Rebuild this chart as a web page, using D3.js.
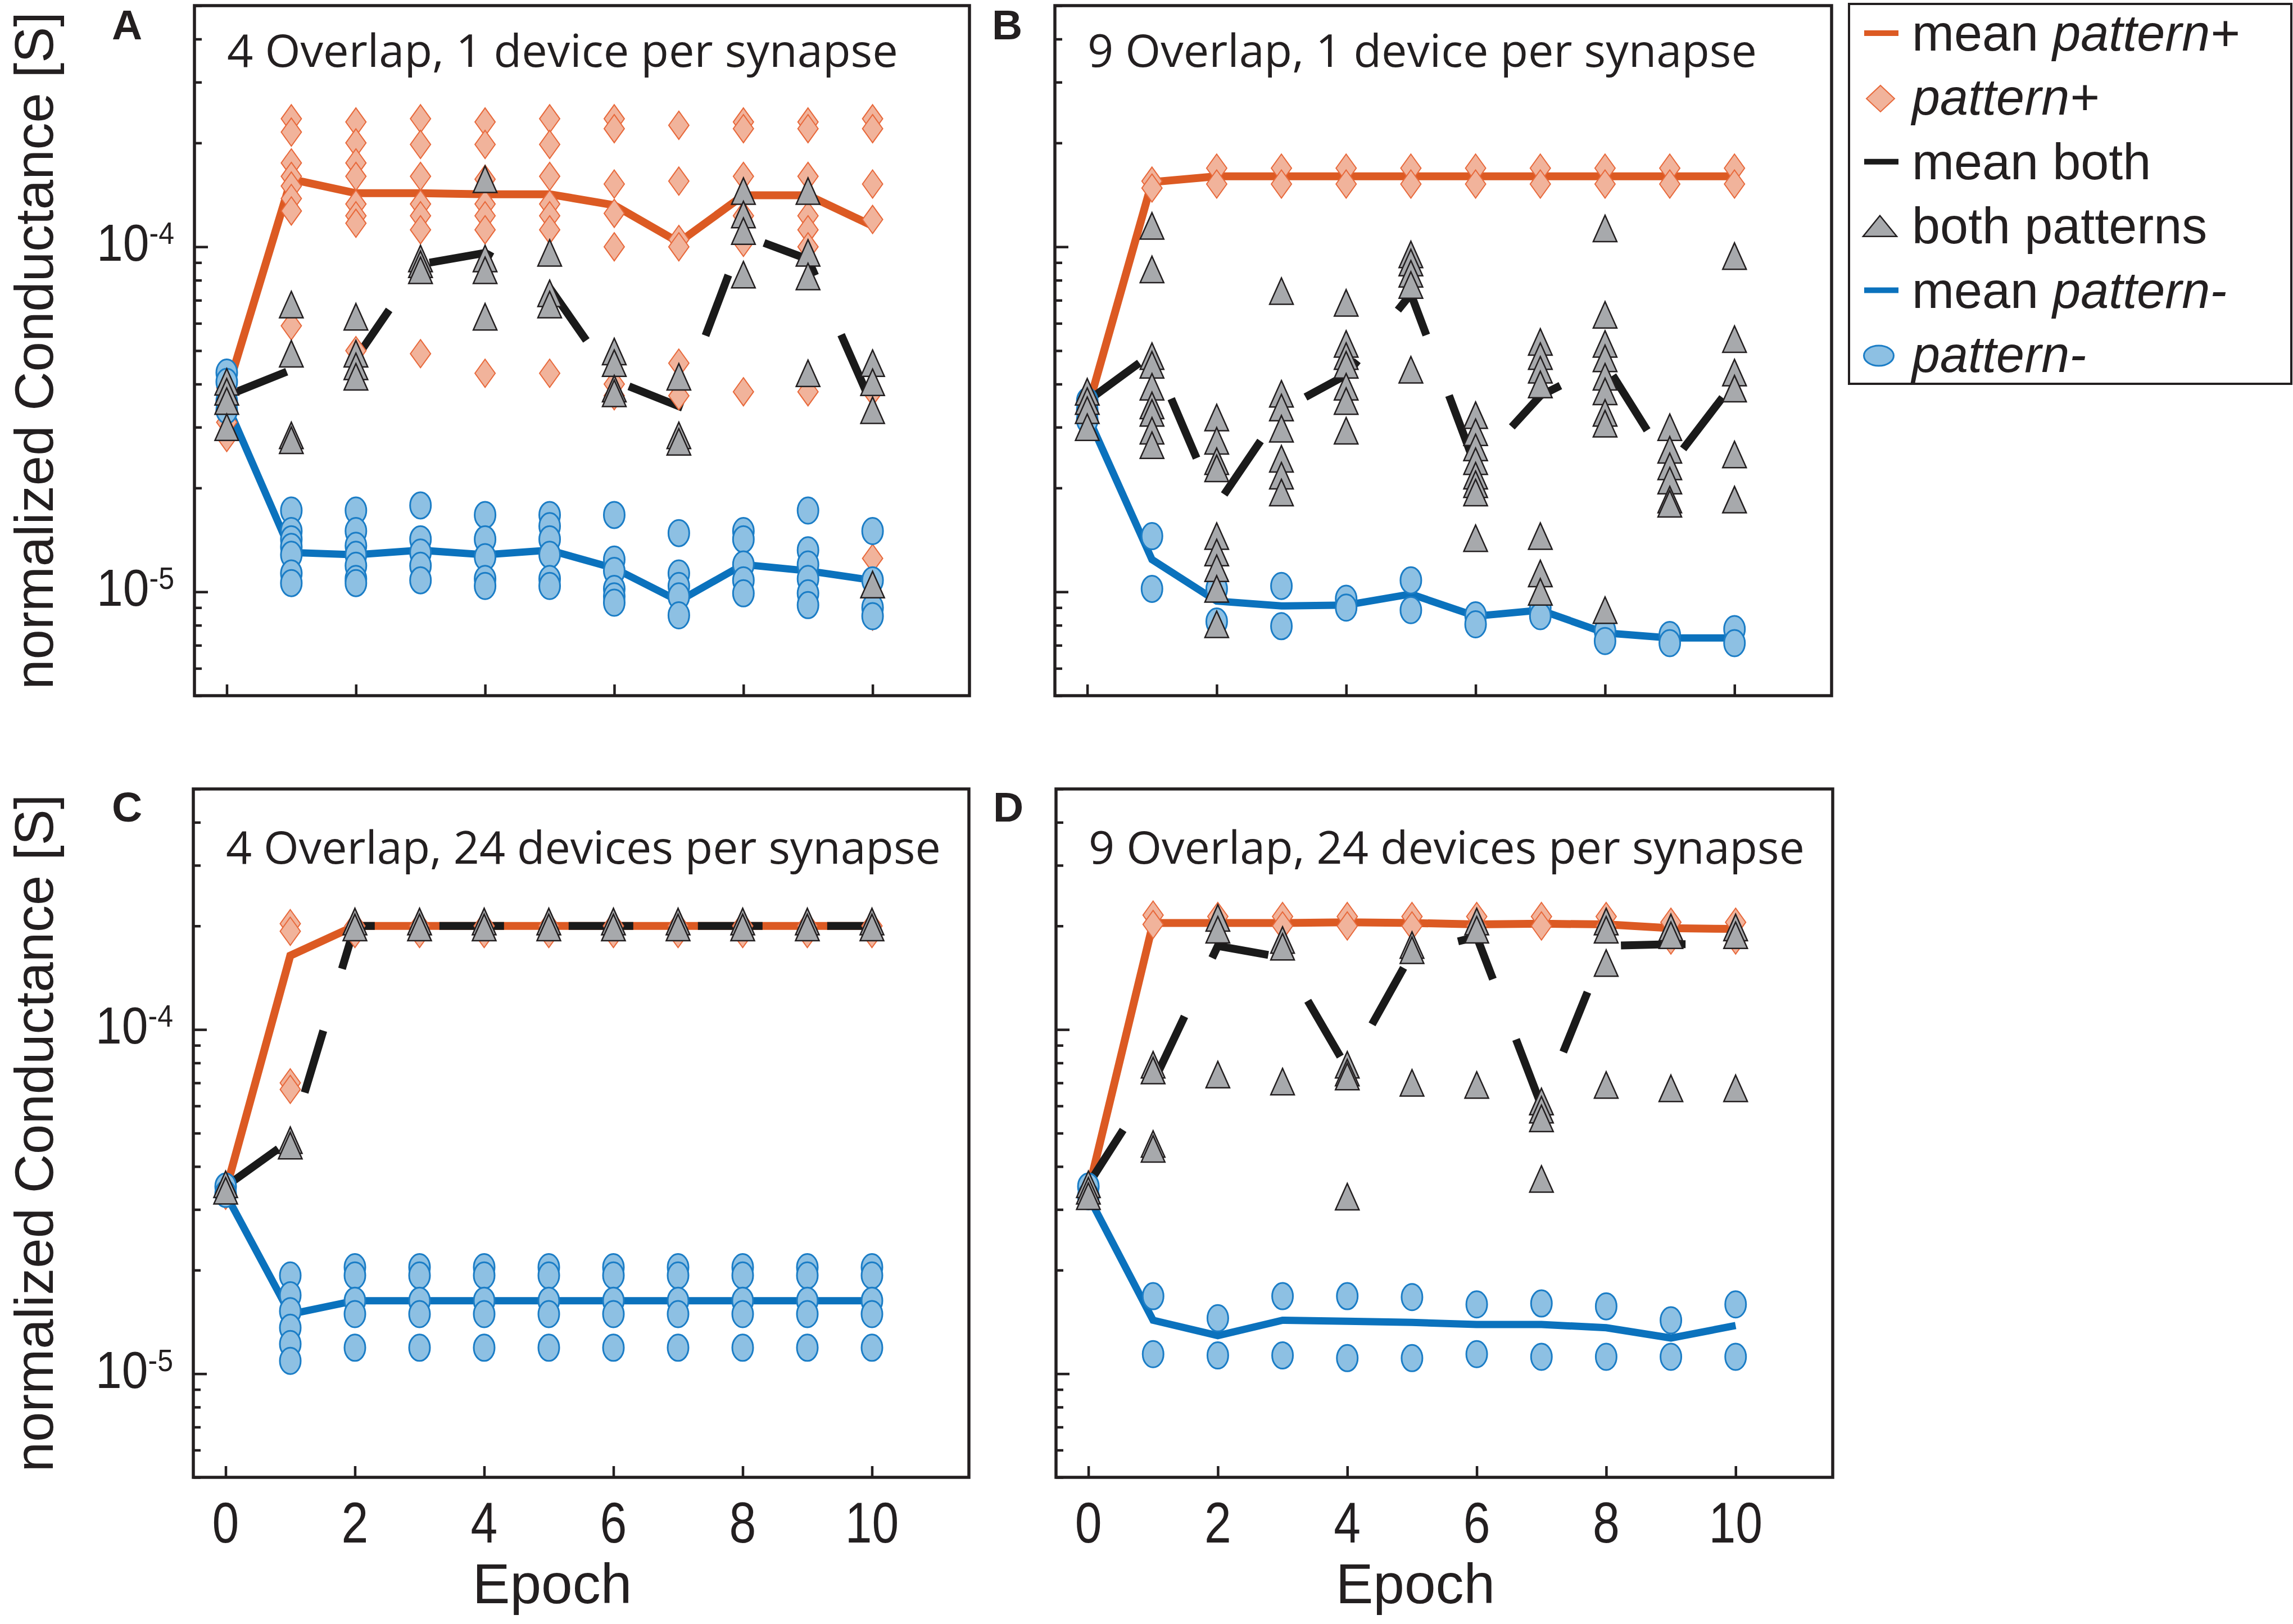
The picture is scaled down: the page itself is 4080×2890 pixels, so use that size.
<!DOCTYPE html>
<html lang="en">
<head>
<meta charset="UTF-8">
<title>normalized Conductance per Epoch</title>
<style>
  body { margin: 0; background: #fff; }
  svg { display: block; }
  text { font-family: "Liberation Sans", Arial, sans-serif; fill: #231f20; }
  .title { font-family: "Open Sans", sans-serif; }
</style>
</head>
<body>
<script src="https://d3js.org/d3.v7.min.js"></script>
<script>
// ---- data ----
const epochs = [0, 1, 2, 3, 4, 5, 6, 7, 8, 9, 10];
const xTicks = [0, 2, 4, 6, 8, 10];
const yMajor = [1e-5, 1e-4];
const yMajorExp = ['-5', '-4'];
const panelLetters = ['A', 'B', 'C', 'D'];
const panelTitles = [
  '4 Overlap, 1 device per synapse',
  '9 Overlap, 1 device per synapse',
  '4 Overlap, 24 devices per synapse',
  '9 Overlap, 24 devices per synapse'
];
const legendLabels = [
  ['mean ', 'pattern+'],
  ['', 'pattern+'],
  ['mean both', ''],
  ['both patterns', ''],
  ['mean ', 'pattern-'],
  ['', 'pattern-']
];

// panel A
const A_plus = [
  [3.9e-5, 3.6e-5, 3.3e-5, 3.1e-5, 2.8e-5],
  [2.35e-4, 2.15e-4, 1.75e-4, 1.6e-4, 1.5e-4, 1.38e-4, 1.27e-4, 5.9e-5],
  [2.3e-4, 2.0e-4, 1.75e-4, 1.6e-4, 1.33e-4, 1.23e-4, 1.17e-4, 5.0e-5],
  [2.35e-4, 1.98e-4, 1.6e-4, 1.33e-4, 1.23e-4, 1.12e-4, 4.9e-5],
  [2.3e-4, 1.98e-4, 1.57e-4, 1.33e-4, 1.23e-4, 1.12e-4, 4.3e-5],
  [2.35e-4, 1.98e-4, 1.6e-4, 1.33e-4, 1.23e-4, 1.12e-4, 4.3e-5],
  [2.35e-4, 2.2e-4, 1.52e-4, 1.25e-4, 1.0e-4, 4.0e-5, 3.7e-5],
  [2.25e-4, 1.55e-4, 1.05e-4, 1.0e-4, 4.6e-5, 3.7e-5],
  [2.3e-4, 2.2e-4, 1.6e-4, 1.23e-4, 1.03e-4, 3.8e-5],
  [2.3e-4, 2.2e-4, 1.6e-4, 1.23e-4, 1.12e-4, 1.0e-4, 3.8e-5],
  [2.35e-4, 2.2e-4, 1.52e-4, 1.2e-4, 3.8e-5, 1.25e-5, 8.5e-6]
];
const A_plusMean = [3.8e-5, 1.57e-4, 1.43e-4, 1.43e-4, 1.42e-4, 1.42e-4, 1.32e-4, 1.03e-4, 1.41e-4, 1.41e-4, 1.15e-4];
const A_both = [
  [4.06e-5, 3.8e-5, 3.57e-5, 3.0e-5],
  [6.8e-5, 4.9e-5, 2.84e-5, 2.75e-5],
  [6.27e-5, 4.9e-5, 4.5e-5, 4.2e-5],
  [9.25e-5, 8.9e-5, 8.55e-5],
  [1.57e-4, 9.25e-5, 8.55e-5, 6.27e-5],
  [9.6e-5, 7.33e-5, 6.8e-5],
  [4.97e-5, 4.6e-5, 3.88e-5, 3.76e-5],
  [4.2e-5, 2.84e-5, 2.72e-5],
  [1.45e-4, 1.24e-4, 1.11e-4, 8.3e-5],
  [1.45e-4, 9.6e-5, 8.2e-5, 4.3e-5],
  [4.6e-5, 4.05e-5, 3.36e-5, 1.05e-5]
];
const A_bothMean = [3.7e-5, 4.4e-5, 4.75e-5, 8.9e-5, 9.6e-5, 7.6e-5, 4.1e-5, 3.45e-5, 1.08e-4, 9.2e-5, 3.45e-5];
const A_minus = [
  [4.32e-5, 4.06e-5, 3.57e-5, 3.36e-5],
  [1.72e-5, 1.5e-5, 1.42e-5, 1.35e-5, 1.28e-5, 1.13e-5, 1.06e-5],
  [1.72e-5, 1.5e-5, 1.36e-5, 1.28e-5, 1.19e-5, 1.09e-5, 1.06e-5],
  [1.78e-5, 1.42e-5, 1.3e-5, 1.19e-5, 1.08e-5],
  [1.67e-5, 1.42e-5, 1.26e-5, 1.09e-5, 1.04e-5],
  [1.67e-5, 1.55e-5, 1.42e-5, 1.28e-5, 1.09e-5, 1.04e-5],
  [1.67e-5, 1.24e-5, 1.15e-5, 1.02e-5, 9.7e-6, 9.3e-6],
  [1.48e-5, 1.13e-5, 1.04e-5, 9.7e-6, 8.55e-6],
  [1.5e-5, 1.42e-5, 1.2e-5, 1.08e-5, 9.9e-6],
  [1.72e-5, 1.32e-5, 1.2e-5, 1.09e-5, 9.9e-6, 9.15e-6],
  [1.5e-5, 1.08e-5, 9.0e-6, 8.5e-6]
];
const A_minusMean = [3.5e-5, 1.3e-5, 1.28e-5, 1.32e-5, 1.28e-5, 1.32e-5, 1.17e-5, 9.4e-6, 1.2e-5, 1.15e-5, 1.08e-5];

// panel B
const B_plus = [
  [3.5e-5, 3.2e-5],
  [1.55e-4, 1.48e-4],
  [1.69e-4, 1.52e-4],
  [1.69e-4, 1.52e-4],
  [1.69e-4, 1.52e-4],
  [1.69e-4, 1.52e-4],
  [1.69e-4, 1.52e-4],
  [1.69e-4, 1.52e-4],
  [1.69e-4, 1.52e-4],
  [1.69e-4, 1.52e-4],
  [1.69e-4, 1.52e-4]
];
const B_plusMean = [3.36e-5, 1.54e-4, 1.6e-4, 1.6e-4, 1.6e-4, 1.6e-4, 1.6e-4, 1.6e-4, 1.6e-4, 1.6e-4, 1.6e-4];
const B_both = [
  [3.8e-5, 3.57e-5, 3.36e-5, 3.0e-5],
  [1.15e-4, 8.6e-5, 4.82e-5, 4.55e-5, 3.93e-5, 3.47e-5, 3.3e-5, 2.93e-5, 2.66e-5],
  [3.2e-5, 2.74e-5, 2.39e-5, 2.28e-5, 1.45e-5, 1.3e-5, 1.17e-5, 1.02e-5, 8.05e-6],
  [7.44e-5, 3.75e-5, 3.42e-5, 2.97e-5, 2.43e-5, 2.17e-5, 1.94e-5],
  [6.88e-5, 5.23e-5, 4.82e-5, 4.55e-5, 3.93e-5, 3.57e-5, 2.93e-5],
  [9.5e-5, 9.0e-5, 8.35e-5, 7.75e-5, 4.4e-5],
  [3.25e-5, 2.9e-5, 2.62e-5, 2.39e-5, 2.17e-5, 2.05e-5, 1.94e-5, 1.43e-5],
  [5.3e-5, 4.82e-5, 4.4e-5, 3.99e-5, 1.45e-5, 1.13e-5, 1.0e-5],
  [1.13e-4, 6.35e-5, 5.23e-5, 4.75e-5, 4.2e-5, 3.81e-5, 3.3e-5, 3.07e-5, 8.85e-6],
  [3.0e-5, 2.58e-5, 2.31e-5, 2.1e-5, 1.85e-5, 1.8e-5],
  [9.4e-5, 5.4e-5, 4.32e-5, 3.88e-5, 2.5e-5, 1.85e-5]
];
const B_bothMean = [3.57e-5, 4.9e-5, 1.78e-5, 3.36e-5, 4.25e-5, 7.3e-5, 2.31e-5, 3.7e-5, 4.6e-5, 2.31e-5, 4.06e-5];
const B_minus = [
  [3.57e-5, 3.36e-5, 3.15e-5],
  [1.45e-5, 1.02e-5],
  [1.02e-5, 8.2e-6],
  [1.04e-5, 7.95e-6],
  [9.55e-6, 9.0e-6],
  [1.08e-5, 8.85e-6],
  [8.55e-6, 8.05e-6],
  [9.0e-6, 8.5e-6],
  [7.7e-6, 7.2e-6],
  [7.5e-6, 7.1e-6],
  [7.8e-6, 7.1e-6]
];
const B_minusMean = [3.25e-5, 1.24e-5, 9.4e-6, 9.1e-6, 9.15e-6, 9.85e-6, 8.5e-6, 8.85e-6, 7.6e-6, 7.35e-6, 7.35e-6];

// panel C
const C_plus = [
  [3.48e-5, 3.3e-5],
  [2.03e-4, 1.93e-4, 7.0e-5, 6.7e-5],
  [2.0e-4, 1.9e-4],
  [2.0e-4, 1.9e-4],
  [2.0e-4, 1.9e-4],
  [2.0e-4, 1.9e-4],
  [2.0e-4, 1.9e-4],
  [2.0e-4, 1.9e-4],
  [2.0e-4, 1.9e-4],
  [2.0e-4, 1.9e-4],
  [2.0e-4, 1.9e-4]
];
const C_plusMean = [3.4e-5, 1.64e-4, 2.0e-4, 2.0e-4, 2.0e-4, 2.0e-4, 2.0e-4, 2.0e-4, 2.0e-4, 2.0e-4, 2.0e-4];
const C_both = [
  [3.55e-5, 3.4e-5],
  [4.77e-5, 4.6e-5],
  [2.06e-4, 1.98e-4],
  [2.06e-4, 1.98e-4],
  [2.06e-4, 1.98e-4],
  [2.06e-4, 1.98e-4],
  [2.06e-4, 1.98e-4],
  [2.06e-4, 1.98e-4],
  [2.06e-4, 1.98e-4],
  [2.06e-4, 1.98e-4],
  [2.06e-4, 1.98e-4]
];
const C_bothMean = [3.5e-5, 4.77e-5, 2.0e-4, 2.0e-4, 2.0e-4, 2.0e-4, 2.0e-4, 2.0e-4, 2.0e-4, 2.0e-4, 2.0e-4];
const C_minus = [
  [3.5e-5, 3.33e-5],
  [1.93e-5, 1.69e-5, 1.52e-5, 1.36e-5, 1.22e-5, 1.09e-5],
  [2.04e-5, 1.93e-5, 1.63e-5, 1.49e-5, 1.19e-5],
  [2.04e-5, 1.93e-5, 1.63e-5, 1.49e-5, 1.19e-5],
  [2.04e-5, 1.93e-5, 1.63e-5, 1.49e-5, 1.19e-5],
  [2.04e-5, 1.93e-5, 1.63e-5, 1.49e-5, 1.19e-5],
  [2.04e-5, 1.93e-5, 1.63e-5, 1.49e-5, 1.19e-5],
  [2.04e-5, 1.93e-5, 1.63e-5, 1.49e-5, 1.19e-5],
  [2.04e-5, 1.93e-5, 1.63e-5, 1.49e-5, 1.19e-5],
  [2.04e-5, 1.93e-5, 1.63e-5, 1.49e-5, 1.19e-5],
  [2.04e-5, 1.93e-5, 1.63e-5, 1.49e-5, 1.19e-5]
];
const C_minusMean = [3.33e-5, 1.49e-5, 1.63e-5, 1.63e-5, 1.63e-5, 1.63e-5, 1.63e-5, 1.63e-5, 1.63e-5, 1.63e-5, 1.63e-5];

// panel D
const D_plus = [
  [3.48e-5],
  [2.15e-4, 2.02e-4],
  [2.13e-4, 2.0e-4],
  [2.13e-4, 2.0e-4],
  [2.13e-4, 2.0e-4],
  [2.13e-4, 2.0e-4],
  [2.13e-4, 2.0e-4],
  [2.13e-4, 2.0e-4],
  [2.13e-4, 2.0e-4],
  [2.05e-4, 1.82e-4],
  [2.05e-4, 1.82e-4]
];
const D_plusMean = [3.4e-5, 2.04e-4, 2.04e-4, 2.04e-4, 2.05e-4, 2.04e-4, 2.02e-4, 2.03e-4, 2.02e-4, 1.97e-4, 1.96e-4];
const D_both = [
  [3.55e-5, 3.4e-5, 3.28e-5],
  [7.9e-5, 7.6e-5, 4.65e-5, 4.5e-5],
  [2.11e-4, 1.95e-4, 7.4e-5],
  [1.82e-4, 1.74e-4, 7.06e-5],
  [7.9e-5, 7.5e-5, 7.3e-5, 3.27e-5],
  [1.76e-4, 1.7e-4, 7.0e-5],
  [2.06e-4, 1.95e-4, 6.9e-5],
  [6.18e-5, 5.85e-5, 5.52e-5, 3.68e-5],
  [2.06e-4, 1.95e-4, 1.56e-4, 6.9e-5],
  [1.98e-4, 1.88e-4, 6.75e-5],
  [1.98e-4, 1.88e-4, 6.75e-5]
];
const D_bothMean = [3.55e-5, 7.0e-5, 1.75e-4, 1.62e-4, 7.7e-5, 1.67e-4, 1.86e-4, 6.0e-5, 1.75e-4, 1.77e-4, 1.77e-4];
const D_minus = [
  [3.5e-5, 3.28e-5],
  [1.68e-5, 1.14e-5],
  [1.45e-5, 1.13e-5],
  [1.68e-5, 1.13e-5],
  [1.68e-5, 1.11e-5],
  [1.67e-5, 1.11e-5],
  [1.59e-5, 1.14e-5],
  [1.6e-5, 1.12e-5],
  [1.57e-5, 1.12e-5],
  [1.43e-5, 1.12e-5],
  [1.59e-5, 1.12e-5]
];
const D_minusMean = [3.28e-5, 1.43e-5, 1.29e-5, 1.43e-5, 1.42e-5, 1.41e-5, 1.39e-5, 1.39e-5, 1.36e-5, 1.27e-5, 1.38e-5];

// ---- layout ----
const W = 4080, H = 2890;
const ORANGE = '#dc5a23', BLUE = '#0b72bd', INK = '#231f20';

// where each panel sits (pixels), and how it is labelled
const panels = [
  { x0: 346, x1: 1725, y0: 10, y1: 1238, plus: A_plus, plusMean: A_plusMean, both: A_both, bothMean: A_bothMean, minus: A_minus, minusMean: A_minusMean, left: true, bottom: false, titleY: 119, titleW: 1194, letterX: 199, letterY: 70 },
  { x0: 1877, x1: 3259, y0: 10, y1: 1238, plus: B_plus, plusMean: B_plusMean, both: B_both, bothMean: B_bothMean, minus: B_minus, minusMean: B_minusMean, left: false, bottom: false, titleY: 119, titleW: 1191, letterX: 1765, letterY: 70 },
  { x0: 344, x1: 1724, y0: 1404, y1: 2629, plus: C_plus, plusMean: C_plusMean, both: C_both, bothMean: C_bothMean, minus: C_minus, minusMean: C_minusMean, left: true, bottom: true, titleY: 1537, titleW: 1272, letterX: 199, letterY: 1462 },
  { x0: 1879, x1: 3261, y0: 1404, y1: 2629, plus: D_plus, plusMean: D_plusMean, both: D_both, bothMean: D_bothMean, minus: D_minus, minusMean: D_minusMean, left: false, bottom: true, titleY: 1537, titleW: 1274, letterX: 1767, letterY: 1462 }
];

// marker shapes for d3.symbol (fixed size, a bit taller than wide like the original)
function diamondShape(w, h) {
  return { draw(ctx) { ctx.moveTo(0, -h); ctx.lineTo(w, 0); ctx.lineTo(0, h); ctx.lineTo(-w, 0); ctx.closePath(); } };
}
function triangleShape(w, h) {
  return { draw(ctx) { ctx.moveTo(0, -h); ctx.lineTo(w, h); ctx.lineTo(-w, h); ctx.closePath(); } };
}
const diamondPath = d3.symbol(diamondShape(18, 25))();
const trianglePath = d3.symbol(triangleShape(21, 23.5))();

const svg = d3.select('body').append('svg')
  .attr('width', W)
  .attr('height', H)
  .attr('viewBox', [0, 0, W, H]);

function flat(groups) {
  return groups.flatMap((vals, i) => vals.map(v => ({ e: epochs[i], v })));
}

panels.forEach((p, idx) => {
  const x = d3.scaleLinear().domain([-0.5, 11.5]).range([p.x0, p.x1]);
  const y = d3.scaleLog().domain([5e-6, 5e-4]).range([p.y1, p.y0]);
  const g = svg.append('g');

  const line = d3.line().x(d => x(d.e)).y(d => y(d.v));
  const asPts = arr => arr.map((v, i) => ({ e: epochs[i], v }));

  // mean lines
  g.append('path').datum(asPts(p.plusMean))
    .attr('d', line).attr('fill', 'none').attr('stroke', ORANGE)
    .attr('stroke-width', 14).attr('stroke-linejoin', 'miter');
  g.append('path').datum(asPts(p.minusMean))
    .attr('d', line).attr('fill', 'none').attr('stroke', BLUE)
    .attr('stroke-width', 13).attr('stroke-linejoin', 'miter');
  g.append('path').datum(asPts(p.bothMean))
    .attr('d', line).attr('fill', 'none').attr('stroke', '#1a1a1a')
    .attr('stroke-width', 14).attr('stroke-dasharray', '115,115').attr('stroke-linejoin', 'miter');

  // pattern+ diamonds
  g.append('g').selectAll('path')
    .data(flat(p.plus))
    .join('path')
    .attr('d', diamondPath)
    .attr('transform', d => `translate(${x(d.e)},${y(d.v)})`)
    .attr('fill', '#f1b39b').attr('stroke', '#e8683a').attr('stroke-width', 2);

  // pattern- circles
  g.append('g').selectAll('ellipse')
    .data(flat(p.minus))
    .join('ellipse')
    .attr('cx', d => x(d.e)).attr('cy', d => y(d.v))
    .attr('rx', 18.5).attr('ry', 23.5)
    .attr('fill', '#8dc0e3').attr('stroke', '#1b7dc6').attr('stroke-width', 3);

  // both patterns triangles
  g.append('g').selectAll('path')
    .data(flat(p.both))
    .join('path')
    .attr('d', trianglePath)
    .attr('transform', d => `translate(${x(d.e)},${y(d.v)})`)
    .attr('fill', '#a7a9ac').attr('stroke', INK).attr('stroke-width', 2.5);

  // ticks, pointing inward
  const yt = y.ticks();
  const minor = yt.filter(t => !yMajor.some(m => Math.abs(m - t) / m < 1e-6));
  g.append('g').attr('transform', `translate(${p.x0},0)`)
    .call(d3.axisLeft(y).tickValues(minor).tickSize(-13).tickFormat(''))
    .call(a => a.select('.domain').remove())
    .call(a => a.selectAll('line').attr('stroke', INK).attr('stroke-width', 4.5));
  g.append('g').attr('transform', `translate(${p.x0},0)`)
    .call(d3.axisLeft(y).tickValues(yMajor).tickSize(-24).tickFormat(''))
    .call(a => a.select('.domain').remove())
    .call(a => a.selectAll('line').attr('stroke', INK).attr('stroke-width', 4.5));
  g.append('g').attr('transform', `translate(0,${p.y1})`)
    .call(d3.axisBottom(x).tickValues(xTicks).tickSize(-20).tickFormat(''))
    .call(a => a.select('.domain').remove())
    .call(a => a.selectAll('line').attr('stroke', INK).attr('stroke-width', 4.5));

  // frame
  g.append('rect')
    .attr('x', p.x0).attr('y', p.y0)
    .attr('width', p.x1 - p.x0).attr('height', p.y1 - p.y0)
    .attr('fill', 'none').attr('stroke', INK).attr('stroke-width', 5.5);

  // y tick labels 10^-n (left panels only)
  if (p.left) {
    yMajor.forEach((m, i) => {
      const t = g.append('text')
        .attr('transform', `translate(${p.x0 - 36},${y(m) + 25}) scale(1,1.1)`)
        .attr('text-anchor', 'end')
        .attr('font-size', 84);
      t.append('tspan').text('10');
      t.append('tspan').attr('font-size', 50).attr('dy', -27).text(yMajorExp[i]);
    });
    g.append('text')
      .attr('transform', `translate(94,${(p.y0 + p.y1) / 2}) rotate(-90)`)
      .attr('text-anchor', 'middle')
      .attr('font-size', 96)
      .text('normalized Conductance [S]');
  }

  // x tick labels + Epoch (bottom panels only)
  if (p.bottom) {
    xTicks.forEach(t => {
      g.append('text')
        .attr('transform', `translate(${x(t)},${p.y1 + 116}) scale(1,1.18)`)
        .attr('text-anchor', 'middle')
        .attr('font-size', 86)
        .text(t);
    });
    g.append('text')
      .attr('x', x(5) + 6).attr('y', p.y1 + 224)
      .attr('text-anchor', 'middle')
      .attr('font-size', 100)
      .text('Epoch');
  }

  // title: font size chosen so the line is as wide as in the original
  const title = g.append('text').attr('class', 'title')
    .attr('x', p.x0 + 58).attr('y', p.titleY)
    .attr('font-size', 88)
    .text(panelTitles[idx]);
  const natural = title.node().getComputedTextLength();
  title.attr('font-size', 88 * p.titleW / natural);

  g.append('text')
    .attr('x', p.letterX).attr('y', p.letterY)
    .attr('font-size', 75).attr('font-weight', 'bold')
    .text(panelLetters[idx]);
});

// ---- legend ----
const lg = svg.append('g');
const lx0 = 3290, ly0 = 7, lx1 = 4077, ly1 = 683;
lg.append('rect')
  .attr('x', lx0).attr('y', ly0).attr('width', lx1 - lx0).attr('height', ly1 - ly0)
  .attr('fill', '#fff').attr('stroke', INK).attr('stroke-width', 4);

const rowY = d3.scalePoint().domain(d3.range(legendLabels.length)).range([90, 662]);
const sampleX = 3348;

legendLabels.forEach((lab, i) => {
  const by = rowY(i);
  const cy = by - 31;
  if (i === 0 || i === 2 || i === 4) {
    lg.append('line')
      .attr('x1', sampleX - 31).attr('x2', sampleX + 30)
      .attr('y1', cy).attr('y2', cy)
      .attr('stroke', i === 0 ? ORANGE : i === 2 ? '#1a1a1a' : BLUE)
      .attr('stroke-width', 10);
  } else if (i === 1) {
    lg.append('path')
      .attr('d', d3.symbol(diamondShape(25, 23.5))())
      .attr('transform', `translate(${sampleX - 2},${cy + 2})`)
      .attr('fill', '#f1b39b').attr('stroke', '#e8683a').attr('stroke-width', 2);
  } else if (i === 3) {
    lg.append('path')
      .attr('d', d3.symbol(triangleShape(30, 18.5))())
      .attr('transform', `translate(${sampleX - 3},${cy})`)
      .attr('fill', '#a7a9ac').attr('stroke', INK).attr('stroke-width', 2.5);
  } else {
    lg.append('ellipse')
      .attr('cx', sampleX - 5).attr('cy', cy + 2)
      .attr('rx', 26.5).attr('ry', 18)
      .attr('fill', '#8dc0e3').attr('stroke', '#1b7dc6').attr('stroke-width', 3);
  }
  const t = lg.append('text')
    .attr('x', 3402).attr('y', by)
    .attr('font-size', 90);
  if (lab[0]) t.append('tspan').text(lab[0]);
  if (lab[1]) t.append('tspan').attr('font-style', 'italic').text(lab[1]);
});
</script>
</body>
</html>
